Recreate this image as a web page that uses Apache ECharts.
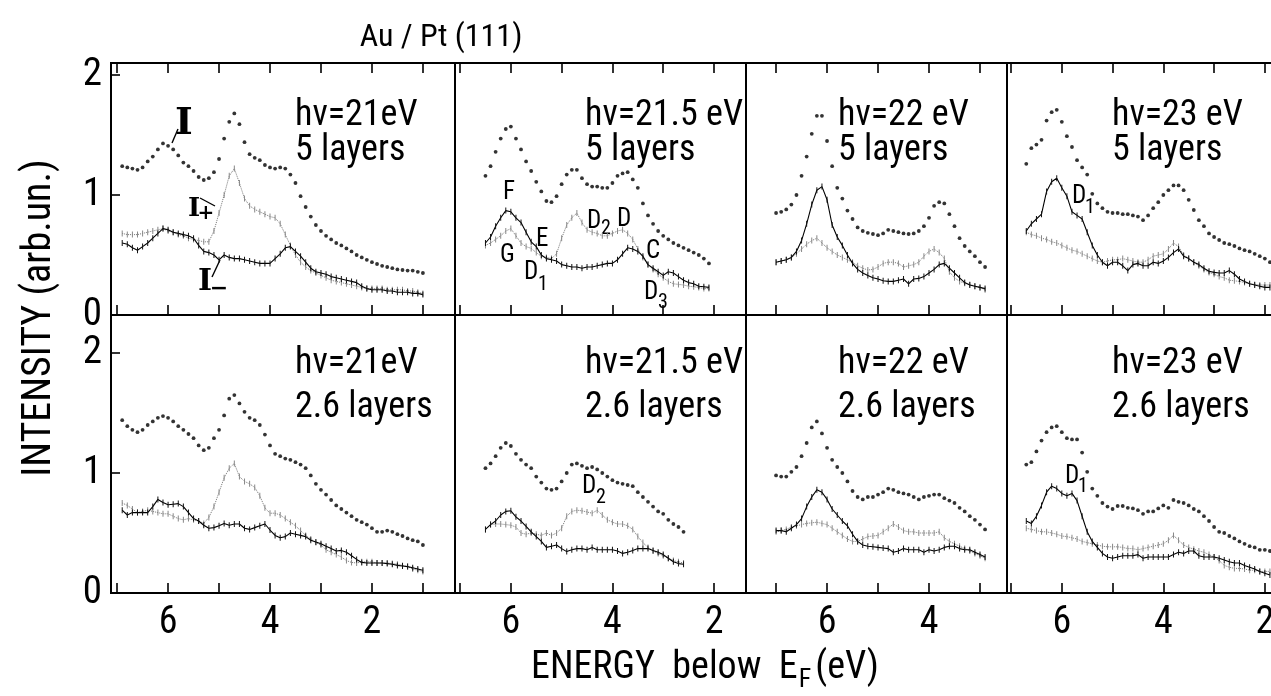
<!DOCTYPE html>
<html>
<head>
<meta charset="utf-8">
<script src="https://cdn.jsdelivr.net/npm/echarts@6/dist/echarts.min.js"></script>
<style>
  html, body { margin: 0; padding: 0; background: #fff; }
  #chart { width: 1271px; height: 696px; }
</style>
</head>
<body>
<div id="chart"></div>
<script>
// energy grid of the spectra, eV below E_F, 0.1 eV per point, first point per panel
const STEP = 0.1;
const startEnergy = [6.9, 6.5, 7.0, 6.7];

const photonEnergy = ['hν=21eV', 'hν=21.5 eV', 'hν=22 eV', 'hν=23 eV'];
const coverage = ['5 layers', '2.6 layers'];
const xTicks = [1, 2, 3, 4, 5, 6, 7];
const xLabels = [2, 4, 6];
const yLabels = [0, 1, 2];

// 5 layers
const topI_21 = [1.24,1.23,1.22,1.21,1.23,1.28,1.32,1.38,1.43,1.41, 1.38,1.33,1.27,1.24,1.20,1.15,1.125,1.14,1.19,1.30,
  1.47,1.61,1.68,1.59,1.44,1.34,1.31,1.29,1.25,1.23, 1.22,1.23,1.22,1.17,1.10,0.99,0.90,0.82,0.75,0.70,
  0.66,0.63,0.60,0.58,0.555,0.53,0.50,0.48,0.46,0.44, 0.425,0.41,0.40,0.39,0.38,0.375,0.37,0.37,0.36,0.35];
const topPlus_21 = [0.68,0.67,0.67,0.67,0.68,0.69,0.70,0.71,0.72,0.70, 0.69,0.67,0.66,0.64,0.63,0.62,0.61,0.61,0.70,0.85,
  1.00,1.16,1.22,1.10,0.97,0.91,0.88,0.86,0.84,0.82, 0.81,0.76,0.67,0.58,0.50,0.44,0.40,0.37,0.35,0.33,
  0.31,0.29,0.28,0.27,0.26,0.25,0.24,0.23,0.22,0.22, 0.22,0.22,0.21,0.21,0.21,0.21,0.20,0.20,0.19,0.18];
const topMinus_21 = [0.60,0.59,0.56,0.54,0.57,0.60,0.64,0.68,0.72,0.71, 0.69,0.68,0.67,0.66,0.64,0.58,0.53,0.52,0.50,0.46,
  0.50,0.48,0.47,0.47,0.46,0.45,0.44,0.43,0.43,0.43, 0.47,0.51,0.56,0.57,0.53,0.49,0.44,0.39,0.36,0.35,
  0.34,0.32,0.31,0.30,0.29,0.28,0.27,0.24,0.22,0.21, 0.21,0.21,0.20,0.20,0.19,0.19,0.19,0.18,0.18,0.17];

const topI_215 = [1.16,1.24,1.36,1.47,1.55,1.57, 1.47,1.38,1.28,1.20,1.11,1.03,0.95,0.94,0.99,1.09,
  1.17,1.21,1.21,1.14,1.09,1.07,1.07,1.06,1.06,1.10, 1.16,1.18,1.19,1.13,1.06,0.93,0.83,0.76,0.70,0.66,
  0.63,0.60,0.58,0.56,0.54,0.52,0.50,0.47,0.43];
const topPlus_215 = [0.58,0.60,0.63,0.66,0.70,0.72, 0.66,0.60,0.57,0.555,0.52,0.49,0.48,0.47,0.51,0.64,
  0.75,0.81,0.85,0.77,0.71,0.69,0.68,0.66,0.66,0.68, 0.70,0.71,0.68,0.63,0.55,0.48,0.42,0.38,0.34,0.31,
  0.28,0.26,0.255,0.25,0.24,0.235,0.23,0.22,0.22];
const topMinus_215 = [0.60,0.65,0.74,0.81,0.87,0.86, 0.81,0.77,0.69,0.61,0.57,0.50,0.47,0.46,0.45,0.42,
  0.41,0.40,0.40,0.39,0.40,0.40,0.41,0.42,0.43,0.43, 0.46,0.51,0.56,0.55,0.53,0.49,0.42,0.39,0.36,0.33,
  0.36,0.35,0.32,0.29,0.27,0.26,0.24,0.235,0.23];

const topI_22 = [0.85,0.86,0.88,0.92,1.00,1.16,1.32,1.51,1.66,1.66, 1.45,1.24,1.06,0.97,0.87,0.80,0.73,0.70,0.685,0.675,
  0.665,0.68,0.71,0.70,0.69,0.68,0.675,0.68,0.70,0.74, 0.81,0.91,0.94,0.93,0.84,0.74,0.64,0.575,0.53,0.49,
  0.44,0.40];
const topPlus_22 = [0.44,0.45,0.46,0.48,0.51,0.55,0.59,0.62,0.64,0.60, 0.56,0.53,0.50,0.48,0.46,0.44,0.41,0.39,0.375,0.38,
  0.40,0.43,0.44,0.44,0.43,0.40,0.41,0.42,0.44,0.49, 0.53,0.55,0.52,0.47,0.36,0.31,0.28,0.265,0.255,0.24,
  0.23,0.21];
const topMinus_22 = [0.44,0.45,0.46,0.48,0.53,0.62,0.76,0.92,1.04,1.07, 0.96,0.75,0.65,0.58,0.50,0.43,0.38,0.35,0.33,0.31,
  0.30,0.285,0.28,0.28,0.29,0.30,0.26,0.30,0.305,0.32, 0.35,0.38,0.42,0.43,0.39,0.35,0.31,0.27,0.25,0.24,
  0.23,0.22];

const topI_23 = [1.26,1.39,1.42,1.46,1.62,1.69,1.71, 1.61,1.49,1.40,1.29,1.23,1.17,1.01,0.93,0.89,0.86,
  0.85,0.85,0.84,0.84,0.83,0.82,0.79,0.83,0.89,0.94, 1.00,1.04,1.08,1.08,1.04,0.96,0.875,0.79,0.74,0.68,
  0.65,0.625,0.60,0.59,0.575,0.555,0.54,0.53,0.51,0.49, 0.47,0.44];
const topPlus_23 = [0.69,0.67,0.66,0.64,0.63,0.61,0.60, 0.58,0.56,0.54,0.53,0.51,0.49,0.47,0.45,0.44,0.45,
  0.46,0.46,0.47,0.46,0.45,0.44,0.44,0.46,0.49,0.50, 0.51,0.55,0.60,0.57,0.50,0.47,0.44,0.41,0.38,0.355,
  0.34,0.32,0.31,0.29,0.285,0.28,0.27,0.26,0.255,0.25, 0.25,0.25];
const topMinus_23 = [0.70,0.76,0.80,0.84,1.03,1.11,1.14, 1.06,0.99,0.86,0.83,0.80,0.69,0.58,0.50,0.44,0.41,
  0.44,0.44,0.41,0.37,0.42,0.43,0.41,0.41,0.44,0.43, 0.45,0.48,0.52,0.55,0.49,0.47,0.44,0.42,0.39,0.365,
  0.355,0.35,0.35,0.37,0.34,0.30,0.28,0.26,0.25,0.24, 0.23,0.23];

// 2.6 layers
const botI_21 = [1.44,1.39,1.36,1.34,1.36,1.40,1.43,1.46,1.475,1.46, 1.43,1.39,1.36,1.325,1.29,1.23,1.19,1.21,1.29,1.36,
  1.48,1.62,1.65,1.58,1.51,1.46,1.44,1.40,1.32,1.23, 1.16,1.14,1.12,1.11,1.09,1.07,1.04,0.98,0.91,0.86,
  0.82,0.775,0.73,0.70,0.67,0.64,0.61,0.59,0.57,0.54, 0.51,0.51,0.52,0.51,0.49,0.475,0.455,0.44,0.43,0.40];
const botPlus_21 = [0.75,0.73,0.70,0.67,0.68,0.69,0.68,0.67,0.66,0.66, 0.64,0.62,0.61,0.62,0.61,0.60,0.58,0.63,0.72,0.84,
  0.96,1.04,1.08,0.97,0.93,0.91,0.88,0.81,0.71,0.665, 0.665,0.65,0.62,0.59,0.56,0.52,0.48,0.45,0.42,0.40,
  0.36,0.34,0.32,0.30,0.27,0.255,0.25,0.26,0.26,0.26, 0.25,0.25,0.25,0.245,0.24,0.23,0.22,0.20,0.19,0.18];
const botMinus_21 = [0.69,0.65,0.67,0.67,0.67,0.67,0.72,0.78,0.755,0.735, 0.74,0.745,0.72,0.67,0.62,0.60,0.565,0.54,0.545,0.56,
  0.58,0.565,0.575,0.575,0.54,0.53,0.545,0.56,0.575,0.525, 0.48,0.46,0.47,0.50,0.49,0.48,0.47,0.44,0.425,0.41,
  0.39,0.37,0.35,0.355,0.34,0.31,0.28,0.255,0.25,0.25, 0.25,0.25,0.245,0.24,0.23,0.225,0.22,0.21,0.20,0.19];

const botI_215 = [1.04,1.08,1.14,1.21,1.25,1.225, 1.16,1.11,1.07,1.04,0.97,0.92,0.87,0.86,0.87,0.93,
  1.00,1.07,1.08,1.06,1.04,1.05,1.03,1.00,0.97,0.94, 0.92,0.91,0.90,0.89,0.84,0.80,0.76,0.72,0.68,0.66,
  0.61,0.575,0.55,0.51];
const botPlus_215 = [0.53,0.57,0.575,0.575,0.57,0.565, 0.55,0.50,0.49,0.50,0.49,0.48,0.50,0.48,0.50,0.54,
  0.64,0.68,0.69,0.685,0.675,0.665,0.69,0.65,0.61,0.59, 0.575,0.575,0.56,0.53,0.47,0.42,0.38,0.35,0.33,0.31,
  0.29,0.27,0.26,0.25];
const botMinus_215 = [0.53,0.57,0.60,0.65,0.68,0.685, 0.635,0.60,0.555,0.51,0.47,0.43,0.38,0.39,0.40,0.37,
  0.345,0.36,0.37,0.37,0.36,0.38,0.36,0.36,0.36,0.36, 0.35,0.33,0.34,0.355,0.37,0.37,0.37,0.355,0.34,0.32,
  0.29,0.26,0.245,0.24];

const botI_22 = [0.98,0.97,0.97,1.01,1.05,1.14,1.25,1.38,1.43,1.33, 1.21,1.11,1.05,1.00,0.93,0.85,0.80,0.78,0.80,0.80,
  0.82,0.84,0.87,0.86,0.84,0.83,0.82,0.80,0.78,0.80, 0.81,0.82,0.82,0.79,0.77,0.75,0.71,0.68,0.64,0.61,
  0.57,0.53];
const botPlus_22 = [0.51,0.52,0.53,0.55,0.56,0.57,0.58,0.585,0.59,0.58, 0.57,0.54,0.51,0.48,0.45,0.43,0.43,0.45,0.47,0.475,
  0.48,0.51,0.54,0.575,0.55,0.52,0.51,0.51,0.50,0.50, 0.50,0.50,0.51,0.46,0.43,0.41,0.39,0.37,0.35,0.33,
  0.31,0.29];
const botMinus_22 = [0.52,0.52,0.51,0.54,0.57,0.62,0.72,0.80,0.86,0.84, 0.78,0.70,0.65,0.60,0.56,0.49,0.43,0.40,0.39,0.385,
  0.38,0.375,0.37,0.34,0.35,0.37,0.36,0.36,0.36,0.34, 0.36,0.35,0.36,0.38,0.39,0.39,0.37,0.36,0.36,0.34,
  0.32,0.30];

const botI_23 = [1.07,1.09,1.18,1.27,1.34,1.38,1.39, 1.34,1.29,1.28,1.28,1.17,1.01,0.87,0.81,0.75,0.72,
  0.70,0.725,0.725,0.71,0.705,0.69,0.66,0.68,0.68,0.705, 0.73,0.71,0.775,0.76,0.75,0.73,0.70,0.68,0.64,0.60,
  0.55,0.51,0.50,0.475,0.455,0.43,0.41,0.39,0.38,0.36, 0.36,0.35];
const botPlus_23 = [0.54,0.53,0.52,0.51,0.51,0.50,0.49, 0.475,0.47,0.46,0.45,0.43,0.42,0.41,0.40,0.39,0.385,
  0.385,0.385,0.38,0.37,0.37,0.36,0.37,0.38,0.39,0.40, 0.41,0.44,0.48,0.44,0.40,0.38,0.365,0.35,0.34,0.32,
  0.30,0.27,0.23,0.215,0.205,0.205,0.20,0.19,0.19,0.18, 0.18,0.18];
const botMinus_23 = [0.60,0.58,0.64,0.73,0.84,0.89,0.87, 0.83,0.81,0.83,0.77,0.64,0.51,0.43,0.38,0.33,0.30,
  0.29,0.30,0.31,0.31,0.31,0.32,0.29,0.30,0.30,0.30, 0.30,0.30,0.32,0.34,0.33,0.35,0.35,0.31,0.30,0.30,
  0.30,0.29,0.275,0.26,0.25,0.25,0.23,0.215,0.20,0.18, 0.165,0.15];

const spectra = [
  [topI_21, topPlus_21, topMinus_21], [topI_215, topPlus_215, topMinus_215],
  [topI_22, topPlus_22, topMinus_22], [topI_23, topPlus_23, topMinus_23],
  [botI_21, botPlus_21, botMinus_21], [botI_215, botPlus_215, botMinus_215],
  [botI_22, botPlus_22, botMinus_22], [botI_23, botPlus_23, botMinus_23]
];

// layout
const FONT = '"Liberation Sans Narrow", "Roboto Condensed", "DejaVu Sans Condensed", Lato, sans-serif';
const colLeft = [111, 455, 746, 1007];
const colWidth = [344, 291, 261, 268];
const xMax = [7.12, 7.10, 7.59, 7.08];
const xMin = [0.37, 1.37, 2.47, 1.80];
const rowTop = [63, 315];
const rowHeight = [252, 278];
const yMax = [2.1, 2.317];
const textX = [295, 585, 838, 1112];
const textY = [[116, 151], [364, 408]];

function energies(start, n) {
    let out = [];
    for (let i = 0; i < n; i++) {
        out.push(+(start - i * STEP).toFixed(2));
    }
    return out;
}

function pairs(start, values) {
    let e = energies(start, values.length);
    return values.map((v, i) => [e[i], v]);
}

let grid = [], xAxis = [], yAxis = [], series = [], graphic = [];

function label(text, x, y, size, align) {
    graphic.push({
        type: 'text', x: x, y: y, silent: true,
        style: {text: text, fontSize: size, fontFamily: FONT, fill: '#000', align: align || 'left', verticalAlign: 'middle'}
    });
}

function leader(x1, y1, x2, y2) {
    graphic.push({type: 'line', silent: true, shape: {x1: x1, y1: y1, x2: x2, y2: y2}, style: {stroke: '#000', lineWidth: 1.4}});
}

for (let k = 0; k < 8; k++) {
    let row = Math.floor(k / 4), col = k % 4;
    grid.push({
        left: colLeft[col], top: rowTop[row], width: colWidth[col], height: rowHeight[row],
        containLabel: false, outerBoundsMode: 'none',
        show: true, borderColor: '#000', borderWidth: 2, backgroundColor: 'transparent'
    });
    let ticks = xTicks.filter(v => v >= xMin[col] && v <= xMax[col]);
    let labs = xLabels.filter(v => v >= xMin[col] && v <= xMax[col]);
    xAxis.push({
        gridIndex: k, type: 'value', inverse: true, min: xMin[col], max: xMax[col], position: 'bottom',
        axisLine: {show: false}, splitLine: {show: false},
        axisTick: {show: true, inside: true, length: 10, customValues: ticks, lineStyle: {color: '#000', width: 1.6}},
        axisLabel: {show: row === 1, customValues: labs, fontSize: 38, fontFamily: FONT, color: '#000', margin: 11}
    });
    xAxis.push({
        gridIndex: k, type: 'value', inverse: true, min: xMin[col], max: xMax[col], position: 'top',
        show: row === 0,
        axisLine: {show: false}, splitLine: {show: false},
        axisTick: {show: true, inside: true, length: 10, customValues: ticks, lineStyle: {color: '#000', width: 1.6}},
        axisLabel: {show: false}
    });
    yAxis.push({
        gridIndex: k, type: 'value', min: 0, max: yMax[row], show: col === 0,
        axisLine: {show: false}, splitLine: {show: false},
        axisTick: {show: true, inside: true, length: 9, customValues: [1, 2], lineStyle: {color: '#000', width: 1.6}},
        axisLabel: {customValues: yLabels, fontSize: 39, fontFamily: FONT, color: '#000', margin: 9}
    });

    let s = spectra[k], start = startEnergy[col];
    series.push({
        type: 'line', xAxisIndex: 2 * k, yAxisIndex: k, data: pairs(start, s[1]),
        symbol: 'rect', symbolSize: [1, 6], itemStyle: {color: '#888'},
        lineStyle: {color: '#777', width: 1, type: 'dotted'}, z: 2
    });
    series.push({
        type: 'line', xAxisIndex: 2 * k, yAxisIndex: k, data: pairs(start, s[2]),
        symbol: 'rect', symbolSize: [1, 6], itemStyle: {color: '#111'},
        lineStyle: {color: '#000', width: 1.1}, z: 3
    });
    series.push({
        type: 'scatter', xAxisIndex: 2 * k, yAxisIndex: k, data: pairs(start, s[0]),
        symbol: 'circle', symbolSize: 3.8, itemStyle: {color: '#000'}, z: 4
    });

    label(photonEnergy[col], textX[col], textY[row][0], 36);
    label(coverage[row], textX[col], textY[row][1], 36);
}

// titles
label('Au / Pt (111)', 441, 38, 32, 'center');
graphic.push({
    type: 'text', x: 40, y: 318, rotation: Math.PI / 2, silent: true,
    style: {text: 'INTENSITY (arb.un.)', fontSize: 40, fontFamily: FONT, fill: '#000', align: 'center', verticalAlign: 'middle'}
});
let ctx = document.createElement('canvas').getContext('2d');
let xName = 'ENERGY  below  E';
ctx.font = '38px ' + FONT;
let w1 = ctx.measureText(xName).width;
ctx.font = '26px ' + FONT;
let w2 = ctx.measureText('F').width;
label(xName, 531, 668, 38);
label('F', 531 + w1 + 1, 680, 26);
label('(eV)', 531 + w1 + w2 + 5, 668, 38);

// curve annotations
const serif = '"DejaVu Serif", "Liberation Serif", serif';
function serifLabel(text, x, y, size) {
    graphic.push({type: 'text', x: x, y: y, silent: true,
        style: {text: text, fontSize: size, fontFamily: serif, fontWeight: 'bold', fill: '#000', align: 'center', verticalAlign: 'middle'}});
}
serifLabel('I', 184, 124, 38);
leader(172, 143, 178, 129);
serifLabel('I', 194, 209, 26);
serifLabel('+', 206, 214, 20);
leader(200, 198, 215, 206);
serifLabel('I', 205, 282, 30);
serifLabel('−', 219, 289, 22);
leader(212, 277, 220, 260);

label('F', 503, 193, 25);
label('G', 500, 256, 25);
label('D', 524, 273, 25); label('1', 538, 285, 20);
label('E', 536, 240, 25);
label('D', 587, 222, 25); label('2', 601, 229, 20);
label('D', 617, 220, 25);
label('C', 646, 252, 25);
label('D', 644, 293, 25); label('3', 658, 303, 20);
label('D', 1072, 197, 25); label('1', 1085, 208, 20);
label('D', 582, 487, 25); label('2', 596, 498, 20);
label('D', 1065, 477, 25); label('1', 1078, 487, 20);

let chart = echarts.init(document.getElementById('chart'));
chart.setOption({
    animation: false,
    backgroundColor: '#fff',
    grid: grid,
    xAxis: xAxis,
    yAxis: yAxis,
    series: series,
    graphic: graphic
});
</script>
</body>
</html>
